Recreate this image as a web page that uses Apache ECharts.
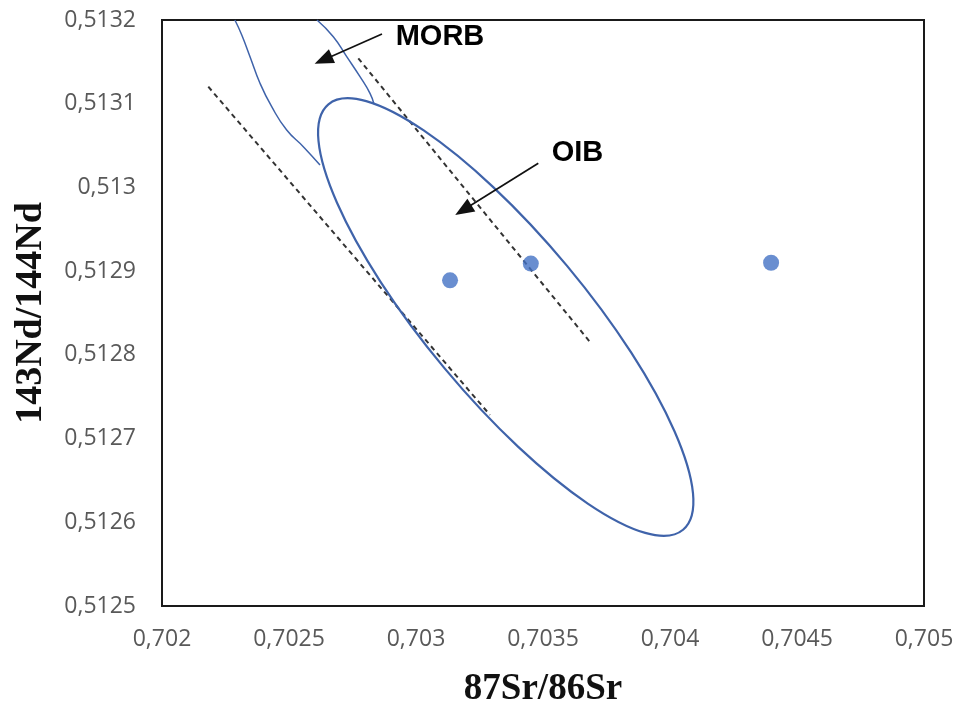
<!DOCTYPE html>
<html>
<head>
<meta charset="utf-8">
<script src="https://cdn.jsdelivr.net/npm/echarts@6/dist/echarts.min.js"></script>
<style>
html,body{margin:0;padding:0;background:#fff;}
#chart{width:956px;height:706px;}
</style>
</head>
<body>
<div id="chart"></div>
<script>
// ---- data ----
var xTicks = [0.702, 0.7025, 0.703, 0.7035, 0.704, 0.7045, 0.705];
var yTicks = [0.5125, 0.5126, 0.5127, 0.5128, 0.5129, 0.513, 0.5131, 0.5132];

// sample points (87Sr/86Sr, 143Nd/144Nd)
var samples = [
  [0.703134, 0.512889],
  [0.703452, 0.512909],
  [0.704398, 0.512910]
];

// OIB field: ellipse read as centre, end of the long axis, end of the short axis
var oibCentre = [0.7033533, 0.5128452];
var oibMajorEnd = [0.7040514, 0.5125911];
var oibMinorEnd = [0.703112, 0.5127841];

// MORB field boundaries
var morbLeft = [
  [0.702287, 0.5132000],
  [0.702314, 0.5131821],
  [0.7023465, 0.5131562],
  [0.7023858, 0.5131244],
  [0.7024319, 0.5130964],
  [0.7024909, 0.5130686],
  [0.7025563, 0.5130487],
  [0.702622, 0.5130268]
];
var morbRight = [
  [0.7026102, 0.5132000],
  [0.7026744, 0.5131800],
  [0.7027272, 0.5131562],
  [0.7027795, 0.5131323],
  [0.7028189, 0.5131124],
  [0.7028346, 0.5130997]
];

// dashed reference lines
var trendLower = [[0.7021823, 0.5131203], [0.7032913, 0.5127282]];
var trendUpper = [[0.7027728, 0.5131542], [0.703685, 0.5128154]];

// annotations: label positions and arrows (start -> tip)
var labelNames = ['MORB', 'OIB'];
var labelPos = [[0.7030945, 0.5131797], [0.7036358, 0.5130408]];
var arrowStart = [[0.7028661, 0.5131833], [0.7034815, 0.5130288]];
var arrowTip = [[0.702635, 0.5131522], [0.7031862, 0.5129730]];

// ---- chart ----
function fmt(v) {
  return String(parseFloat(v.toFixed(5))).replace('.', ',');
}

var chart = echarts.init(document.getElementById('chart'), null, {renderer: 'canvas'});

var fieldColor = '#3F63AA';

var option = {
  animation: false,
  backgroundColor: '#ffffff',
  grid: {
    left: 162, right: 32, top: 20, bottom: 100,
    outerBoundsMode: 'none', containLabel: false,
    show: true, borderColor: '#1a1a1a', borderWidth: 2, backgroundColor: 'transparent'
  },
  xAxis: {
    type: 'value',
    min: xTicks[0], max: xTicks[xTicks.length - 1], interval: 0.0005,
    axisLine: {show: false}, axisTick: {show: false}, splitLine: {show: false},
    axisLabel: {
      formatter: fmt, color: '#595959', fontFamily: 'Open Sans', fontSize: 23, margin: 22,
      showMinLabel: true, showMaxLabel: true
    },
    name: '87Sr/86Sr', nameLocation: 'middle', nameGap: 65,
    nameTextStyle: {fontFamily: 'Liberation Serif', fontWeight: 'bold', fontSize: 37, color: '#111'}
  },
  yAxis: {
    type: 'value',
    min: yTicks[0], max: yTicks[yTicks.length - 1], interval: 0.0001,
    axisLine: {show: false}, axisTick: {show: false}, splitLine: {show: false},
    axisLabel: {
      formatter: fmt, color: '#595959', fontFamily: 'Open Sans', fontSize: 23, margin: 26,
      showMinLabel: true, showMaxLabel: true
    },
    name: '143Nd/144Nd', nameLocation: 'middle', nameGap: 112,
    nameTextStyle: {fontFamily: 'Liberation Serif', fontWeight: 'bold', fontSize: 38, color: '#111'}
  },
  series: [
    {
      type: 'custom', silent: true, z: 2,
      data: [[oibCentre[0], oibCentre[1], oibMajorEnd[0], oibMajorEnd[1], oibMinorEnd[0], oibMinorEnd[1]]],
      encode: {x: [0, 2, 4], y: [1, 3, 5]},
      renderItem: function (params, api) {
        var c = api.coord([api.value(0), api.value(1)]);
        var p1 = api.coord([api.value(2), api.value(3)]);
        var p2 = api.coord([api.value(4), api.value(5)]);
        var rx = Math.hypot(p1[0] - c[0], p1[1] - c[1]);
        var ry = Math.hypot(p2[0] - c[0], p2[1] - c[1]);
        var rot = Math.atan2(-(p1[1] - c[1]), p1[0] - c[0]);
        return {
          type: 'ellipse',
          x: c[0], y: c[1], rotation: rot,
          shape: {cx: 0, cy: 0, rx: rx, ry: ry},
          style: {fill: null, stroke: fieldColor, lineWidth: 2.2}
        };
      }
    },
    {
      type: 'line', data: morbLeft, smooth: 0.5, showSymbol: false, symbol: 'none',
      lineStyle: {color: fieldColor, width: 1.5}, silent: true, z: 2
    },
    {
      type: 'line', data: morbRight, smooth: 0.5, showSymbol: false, symbol: 'none',
      lineStyle: {color: fieldColor, width: 1.5}, silent: true, z: 2
    },
    {
      type: 'line', data: trendLower, showSymbol: false, symbol: 'none',
      lineStyle: {color: '#333', width: 2, type: [5, 4]}, silent: true, z: 1
    },
    {
      type: 'line', data: trendUpper, showSymbol: false, symbol: 'none',
      lineStyle: {color: '#333', width: 2, type: [5, 4]}, silent: true, z: 1
    },
    {
      type: 'scatter', data: samples, symbol: 'circle', symbolSize: 16,
      itemStyle: {color: '#4472C4'}, z: 5
    },
    {
      type: 'line', data: [], silent: true, z: 6,
      markLine: {
        silent: true, animation: false,
        symbol: ['none', 'triangle'], symbolSize: [15, 19],
        lineStyle: {color: '#111', width: 1.7, type: 'solid'},
        itemStyle: {color: '#000'},
        label: {show: false},
        emphasis: {disabled: true},
        data: arrowStart.map(function (s, i) {
          return [{coord: s}, {coord: arrowTip[i]}];
        })
      }
    },
    {
      type: 'scatter', symbolSize: 1, silent: true, z: 7,
      itemStyle: {color: 'rgba(0,0,0,0)'},
      data: labelPos.map(function (p, i) {
        return {value: p, name: labelNames[i]};
      }),
      label: {
        show: true, position: 'inside', opacity: 1,
        formatter: function (p) { return p.name; },
        fontFamily: 'Liberation Sans', fontWeight: 'bold', fontSize: 29, color: '#000',
        textBorderWidth: 0
      }
    }
  ]
};
chart.setOption(option);
</script>
</body>
</html>
